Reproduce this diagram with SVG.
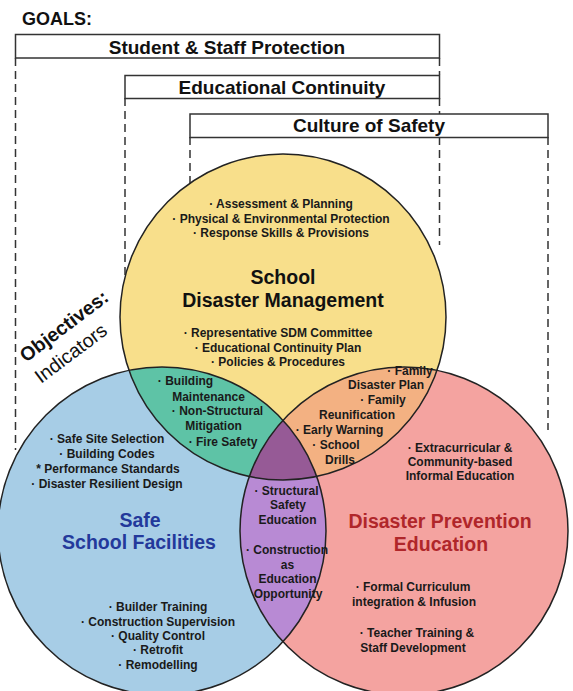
<svg xmlns="http://www.w3.org/2000/svg" width="573" height="691" viewBox="0 0 573 691">
<style>
.box{fill:#fff;stroke:#333;stroke-width:1.5}
.goal{font-family:"Liberation Sans",Arial,sans-serif;font-weight:bold;font-size:19px;fill:#111;text-anchor:middle}
.dash{stroke:#333;stroke-width:1.5;stroke-dasharray:8 5;fill:none}
.b{font-family:"Liberation Sans",Arial,sans-serif;font-weight:bold;font-size:12px;fill:#1a1a1a;text-anchor:middle}
.t{font-family:"Liberation Sans",Arial,sans-serif;font-weight:bold;font-size:19.5px;text-anchor:middle}
.ol{fill:none;stroke:#222;stroke-width:1.5}
</style>
<defs>
<clipPath id="cY"><circle cx="283" cy="317" r="163"/></clipPath>
<clipPath id="cB"><circle cx="162" cy="531" r="164"/></clipPath>
<clipPath id="cR"><circle cx="404" cy="531" r="164"/></clipPath>
</defs>
<rect width="573" height="691" fill="#fff"/>
<g id="connectors">
<line class="dash" x1="15.5" y1="58" x2="15.5" y2="450"/>
<line class="dash" x1="439.5" y1="58" x2="439.5" y2="75"/>
<line class="dash" x1="439.5" y1="98" x2="439.5" y2="245"/>
<line class="dash" x1="125" y1="98" x2="125" y2="300"/>
<line class="dash" x1="190" y1="137" x2="190" y2="200"/>
<line class="dash" x1="548" y1="137" x2="548" y2="430"/>
</g>
<g id="goals">
<text x="22" y="25" style="font-family:'Liberation Sans',Arial,sans-serif;font-weight:bold;font-size:18px;fill:#111">GOALS:</text>
<g id="goal-protection">
<rect class="box" x="15.5" y="34.5" width="424" height="23.5"/>
<text class="goal" x="227" y="54">Student &amp; Staff Protection</text>
</g>
<g id="goal-continuity">
<rect class="box" x="125" y="75.5" width="314.5" height="23"/>
<text class="goal" x="282" y="94">Educational Continuity</text>
</g>
<g id="goal-culture">
<rect class="box" x="190" y="114" width="358" height="23.5"/>
<text class="goal" x="369" y="132">Culture of Safety</text>
</g>
</g>
<g id="objectives-label">
<text x="26" y="363" transform="rotate(-37 26 363)" style="font-family:'Liberation Sans',Arial,sans-serif;font-weight:bold;font-size:19.5px;fill:#111">Objectives:</text>
<text x="41" y="384" transform="rotate(-37 41 384)" style="font-family:'Liberation Sans',Arial,sans-serif;font-size:19.5px;fill:#111">Indicators</text>
</g>
<g id="venn-fills">
<circle cx="283" cy="317" r="163" fill="#f8df8b"/>
<circle cx="162" cy="531" r="164" fill="#a7cde6"/>
<circle cx="404" cy="531" r="164" fill="#f4a3a0"/>
<circle cx="162" cy="531" r="164" fill="#5ec3a6" clip-path="url(#cY)"/>
<circle cx="404" cy="531" r="164" fill="#f3b182" clip-path="url(#cY)"/>
<circle cx="162" cy="531" r="164" fill="#b88ad4" clip-path="url(#cR)"/>
<g clip-path="url(#cY)"><circle cx="162" cy="531" r="164" fill="#965a96" clip-path="url(#cR)"/></g>
</g>
<g id="venn-outlines">
<circle class="ol" cx="283" cy="317" r="163"/>
<circle class="ol" cx="162" cy="531" r="164"/>
<circle class="ol" cx="404" cy="531" r="164"/>
</g>
<g id="school-disaster-management">
<text class="b" x="281" y="208">· Assessment &amp; Planning</text>
<text class="b" x="281" y="222.5">· Physical &amp; Environmental Protection</text>
<text class="b" x="281" y="237">· Response Skills &amp; Provisions</text>
<text class="t" x="283" y="284" fill="#111">School</text>
<text class="t" x="283" y="307" fill="#111">Disaster Management</text>
<text class="b" x="278" y="337">· Representative SDM Committee</text>
<text class="b" x="278" y="352">· Educational Continuity Plan</text>
<text class="b" x="278" y="366">· Policies &amp; Procedures</text>
</g>
<g id="facilities-management-overlap">
<text class="b" x="185.5" y="385">· Building</text>
<text class="b" x="208.5" y="401">Maintenance</text>
<text class="b" x="217.5" y="415">· Non-Structural</text>
<text class="b" x="213.5" y="430">Mitigation</text>
<text class="b" x="223" y="446">· Fire Safety</text>
</g>
<g id="management-education-overlap">
<text class="b" x="410" y="375">· Family</text>
<text class="b" x="386" y="389">Disaster Plan</text>
<text class="b" x="383" y="404">· Family</text>
<text class="b" x="357" y="419">Reunification</text>
<text class="b" x="339.5" y="434">· Early Warning</text>
<text class="b" x="336" y="449">· School</text>
<text class="b" x="340" y="464">Drills</text>
</g>
<g id="safe-school-facilities">
<text class="b" x="107" y="443">· Safe Site Selection</text>
<text class="b" x="107" y="458">· Building Codes</text>
<text class="b" x="108" y="473">* Performance Standards</text>
<text class="b" x="107" y="488">· Disaster Resilient Design</text>
<text class="t" x="140" y="527" fill="#23399b">Safe</text>
<text class="t" x="139" y="549" fill="#23399b">School Facilities</text>
<text class="b" x="158" y="611">· Builder Training</text>
<text class="b" x="158" y="626">· Construction Supervision</text>
<text class="b" x="158" y="640">· Quality Control</text>
<text class="b" x="158" y="654">· Retrofit</text>
<text class="b" x="158" y="669">· Remodelling</text>
</g>
<g id="facilities-education-overlap">
<text class="b" x="286.5" y="495">· Structural</text>
<text class="b" x="288" y="509">Safety</text>
<text class="b" x="287.5" y="524">Education</text>
<text class="b" x="287" y="554">· Construction</text>
<text class="b" x="287.5" y="569">as</text>
<text class="b" x="287.5" y="583">Education</text>
<text class="b" x="288" y="598">Opportunity</text>
</g>
<g id="disaster-prevention-education">
<text class="b" x="460" y="452">· Extracurricular &amp;</text>
<text class="b" x="460" y="466">Community-based</text>
<text class="b" x="460" y="480">Informal Education</text>
<text class="t" x="440" y="528" fill="#b0262a">Disaster Prevention</text>
<text class="t" x="441" y="551" fill="#b0262a">Education</text>
<text class="b" x="413" y="591">· Formal Curriculum</text>
<text class="b" x="414" y="606">integration &amp; Infusion</text>
<text class="b" x="417" y="637">· Teacher Training &amp;</text>
<text class="b" x="413" y="652">Staff Development</text>
</g>
</svg>
